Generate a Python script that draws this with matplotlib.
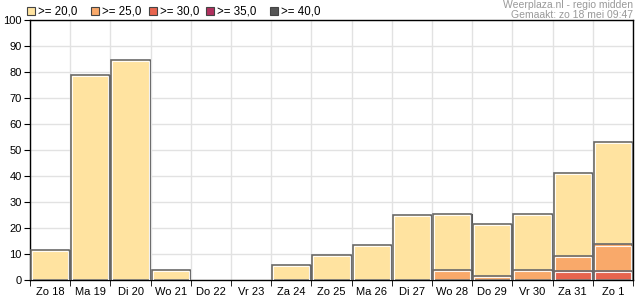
import matplotlib
matplotlib.use("Agg")
from matplotlib import pyplot as plt
from matplotlib.patches import Rectangle
import numpy as np

plt.rcParams['font.family'] = ['Liberation Sans', 'DejaVu Sans']

days = ["Zo 18", "Ma 19", "Di 20", "Wo 21", "Do 22", "Vr 23", "Za 24", "Zo 25",
        "Ma 26", "Di 27", "Wo 28", "Do 29", "Vr 30", "Za 31", "Zo 1"]
p20 = [11.5, 78.8, 84.6, 3.8, 0, 0, 5.8, 9.6, 13.5, 25.0, 25.4, 21.5, 25.4, 41.2, 53.0]
p25 = [0, 0, 0, 0, 0, 0, 0, 0, 0, 0, 3.8, 1.6, 3.8, 9.4, 13.7]
p30 = [0, 0, 0, 0, 0, 0, 0, 0, 0, 0, 0, 0, 0, 3.6, 3.6]
p35 = [0] * 15
p40 = [0] * 15

labels = [">= 20,0", ">= 25,0", ">= 30,0", ">= 35,0", ">= 40,0"]
colors = ["#FFE3A0", "#F9A96A", "#E8644E", "#B0305E", "#555555"]

fig = plt.figure(figsize=(6.35, 3.0), dpi=100)
ax = fig.add_axes([30 / 635, 20 / 300, 603 / 635, 260 / 300])

x = np.arange(len(days))
for vals, c in zip([p20, p25, p30, p35, p40], colors):
    v = np.array(vals)
    m = v > 0
    # shadow
    ax.bar(x[m] + 0.04, v[m], width=0.94, color="#555555", linewidth=0, zorder=3)
    ax.bar(x[m], v[m], width=0.95, color=c, edgecolor="#6a6a6a", linewidth=1.2,
           zorder=3)
    # white inner line
    ax.bar(x[m], v[m] - 0.45, width=0.9, facecolor="none", edgecolor="white",
           linewidth=0.8, alpha=0.9, zorder=3)

ax.set_xlim(-0.5, len(days) - 0.5)
ax.set_ylim(0, 100)
ax.set_yticks(range(0, 101, 10))
ax.set_xticks(x)
ax.set_xticklabels(days)
ax.set_xticks(np.arange(-0.5, len(days), 1), minor=True)
ax.tick_params(axis="x", which="major", length=0, labelsize=8, pad=5)
ax.tick_params(axis="x", which="minor", length=4, direction="out")
ax.tick_params(axis="y", length=4, labelsize=8, pad=2)
ax.grid(True, which="minor", axis="x", color="#e2e2e2", linewidth=1, zorder=0)
ax.grid(True, which="major", axis="y", color="#e2e2e2", linewidth=1, zorder=0)
for s in ax.spines.values():
    s.set_color("black")
    s.set_linewidth(1)

# legend row at top
lx = [27, 91, 149, 206, 270]
for xx, lab, c in zip(lx, labels, colors):
    fig.patches.append(Rectangle((xx / 635, 1 - 15 / 300), 8 / 635, 8 / 300,
                                 transform=fig.transFigure, facecolor=c,
                                 edgecolor="#444444", linewidth=0.8))
    fig.text((xx + 11) / 635, 1 - 11 / 300, lab, fontsize=8.3, va="center", ha="left")

fig.text(633 / 635, 1 - 5 / 300, "Weerplaza.nl - regio midden", fontsize=7.5,
         color="#999999", ha="right", va="center")
fig.text(633 / 635, 1 - 15 / 300, "Gemaakt: zo 18 mei 09:47", fontsize=7.5,
         color="#999999", ha="right", va="center")

fig.savefig("out.png", dpi=100)
